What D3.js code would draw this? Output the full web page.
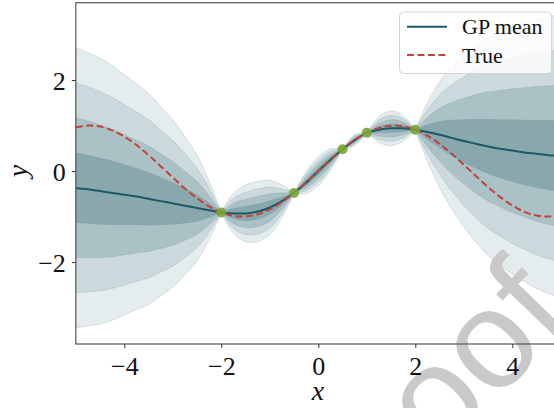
<!DOCTYPE html>
<html>
<head>
<meta charset="utf-8">
<script src="https://cdn.jsdelivr.net/npm/d3@7"></script>
<style>
  body { margin: 0; background: #fff; }
  svg { display: block; }
  text { font-family: "Liberation Serif", "DejaVu Serif", serif; }
</style>
</head>
<body>
<svg width="554" height="408"></svg>
<script>
// grid of x positions (step 0.25)
const xs = [-5, -4.75, -4.5, -4.25, -4, -3.75, -3.5, -3.25, -3, -2.75, -2.5, -2.25, -2,
  -1.75, -1.5, -1.25, -1, -0.75, -0.5, -0.25, 0, 0.25, 0.5, 0.75, 1, 1.25, 1.5, 1.75, 2,
  2.25, 2.5, 2.75, 3, 3.25, 3.5, 3.75, 4, 4.25, 4.5, 4.75, 5];

const gpMean = [-0.37, -0.40, -0.44, -0.48, -0.52, -0.56, -0.61, -0.66, -0.71, -0.76, -0.81, -0.86, -0.91,
  -0.93, -0.93, -0.89, -0.80, -0.66, -0.48, -0.25, 0.00, 0.25, 0.48, 0.68, 0.84, 0.91, 0.94, 0.94, 0.91,
  0.86, 0.80, 0.73, 0.66, 0.60, 0.54, 0.49, 0.45, 0.41, 0.38, 0.35, 0.33];

const gpStd = [0.77, 0.75, 0.73, 0.70, 0.66, 0.62, 0.58, 0.52, 0.46, 0.38, 0.29, 0.16, 0,
  0.11, 0.155, 0.165, 0.15, 0.09, 0, 0.06, 0.08, 0.06, 0, 0.03, 0, 0.07, 0.095, 0.07, 0,
  0.16, 0.29, 0.39, 0.47, 0.54, 0.60, 0.64, 0.68, 0.71, 0.74, 0.76, 0.78];

const trueY = [0.959, 0.999, 0.978, 0.895, 0.757, 0.572, 0.351, 0.108, -0.141, -0.382, -0.598, -0.778, -0.909,
  -0.984, -0.997, -0.949, -0.841, -0.682, -0.479, -0.247, 0, 0.247, 0.479, 0.682, 0.841, 0.949, 0.997, 0.984, 0.909,
  0.778, 0.598, 0.382, 0.141, -0.108, -0.351, -0.572, -0.757, -0.895, -0.978, -0.999, -0.959];

const obsX = [-2, -0.5, 0.5, 1, 2];
const obsY = [-0.91, -0.48, 0.48, 0.84, 0.91];

const xTicks = [-4, -2, 0, 2, 4];
const yTicks = [-2, 0, 2];
const bandLevels = [4, 3, 2, 1];
const legendLabels = ['GP mean', 'True'];

var svg = d3.select('svg');

var x = d3.scaleLinear().domain([-5, 5]).range([75.8, 560.8]);
var y = d3.scaleLinear().domain([-3.8, 3.7]).range([344, 2.7]);

var bandFill = { 4: '#e5ecee', 3: '#cbd8dc', 2: '#aac1c6', 1: '#88a8ae' };

var rows = xs.map((v, i) => ({ x: v, m: gpMean[i], s: gpStd[i], t: trueY[i] }));

// split the grid at the points where the band closes (sd == 0)
var segments = [];
var start = 0;
rows.forEach((r, i) => {
  if (i > 0 && (r.s === 0 || i === rows.length - 1)) {
    segments.push(rows.slice(start, i + 1));
    start = i;
  }
});

svg.append('defs').append('clipPath')
  .attr('id', 'plot-clip')
  .append('rect')
  .attr('x', x(-5)).attr('y', y(3.7))
  .attr('width', x(5) - x(-5)).attr('height', y(-3.8) - y(3.7));

var plot = svg.append('g').attr('clip-path', 'url(#plot-clip)');

bandLevels.forEach((k) => {
  var area = d3.area()
    .x(d => x(d.x))
    .y0(d => y(d.m - k * d.s))
    .y1(d => y(d.m + k * d.s))
    .curve(d3.curveCatmullRom);
  plot.append('path')
    .attr('d', segments.map(seg => area(seg)).join(''))
    .attr('fill', bandFill[k])
    .attr('stroke', '#6f959c')
    .attr('stroke-opacity', 0.3)
    .attr('stroke-width', 0.8);
});

var meanLine = d3.line().x(d => x(d.x)).y(d => y(d.m)).curve(d3.curveCatmullRom);
var trueLine = d3.line().x(d => x(d.x)).y(d => y(d.t)).curve(d3.curveCatmullRom);

plot.append('path')
  .attr('d', meanLine(rows))
  .attr('fill', 'none')
  .attr('stroke', '#1d5866')
  .attr('stroke-width', 2);

plot.append('path')
  .attr('d', trueLine(rows))
  .attr('fill', 'none')
  .attr('stroke', '#c0423b')
  .attr('stroke-width', 2)
  .attr('stroke-dasharray', '7,3.5');

plot.selectAll('circle.obs')
  .data(obsX)
  .enter()
  .append('circle')
  .attr('class', 'obs')
  .attr('cx', d => x(d))
  .attr('cy', (d, i) => y(obsY[i]))
  .attr('r', 5)
  .attr('fill', '#79a335')
  .attr('fill-opacity', 0.9);

// watermark
svg.append('text')
  .attr('transform', 'translate(342.6,559.8) rotate(-46)')
  .style('font-family', '"Liberation Sans", Arial, sans-serif')
  .style('font-size', '140px')
  .attr('fill', '#c9c9c9')
  .text('Proof');

// frame
svg.append('rect')
  .attr('x', x(-5)).attr('y', y(3.7))
  .attr('width', x(5) - x(-5)).attr('height', y(-3.8) - y(3.7))
  .attr('fill', 'none')
  .attr('stroke', '#555')
  .attr('stroke-width', 1.2);

var fmt = d => d < 0 ? '\u2212' + Math.abs(d) : String(d);

var xAxis = svg.append('g')
  .attr('transform', 'translate(0,' + y(-3.8) + ')')
  .call(d3.axisBottom(x).tickValues(xTicks).tickSize(4).tickFormat(fmt));
xAxis.select('.domain').remove();
xAxis.selectAll('line').attr('stroke', '#333');
xAxis.selectAll('text')
  .attr('y', 31).attr('dy', null)
  .attr('fill', '#111')
  .style('font-family', '"Liberation Serif", serif')
  .style('font-size', '26px');

var yAxis = svg.append('g')
  .attr('transform', 'translate(' + x(-5) + ',0)')
  .call(d3.axisLeft(y).tickValues(yTicks).tickSize(4).tickFormat(fmt));
yAxis.select('.domain').remove();
yAxis.selectAll('line').attr('stroke', '#333');
yAxis.selectAll('text')
  .attr('x', -10).attr('dy', '0.36em')
  .attr('fill', '#111')
  .style('font-family', '"Liberation Serif", serif')
  .style('font-size', '26px');

svg.append('text')
  .attr('x', 318).attr('y', 400)
  .attr('text-anchor', 'middle')
  .style('font-style', 'italic')
  .style('font-size', '28px')
  .attr('fill', '#111')
  .text('x');

svg.append('text')
  .attr('transform', 'translate(27,171) rotate(-90)')
  .attr('text-anchor', 'middle')
  .style('font-style', 'italic')
  .style('font-size', '28px')
  .attr('fill', '#111')
  .text('y');

// legend
var legend = svg.append('g');
legend.append('rect')
  .attr('x', 399.5).attr('y', 12)
  .attr('width', 152).attr('height', 61.5)
  .attr('rx', 4)
  .attr('fill', '#fff').attr('fill-opacity', 0.8)
  .attr('stroke', '#d5d5d5');

legend.append('line')
  .attr('x1', 407).attr('x2', 447).attr('y1', 26.7).attr('y2', 26.7)
  .attr('stroke', '#1d5866').attr('stroke-width', 2);
legend.append('line')
  .attr('x1', 407).attr('x2', 447).attr('y1', 55).attr('y2', 55)
  .attr('stroke', '#c0423b').attr('stroke-width', 2)
  .attr('stroke-dasharray', '7,3.5');

legend.selectAll('text.lab')
  .data(legendLabels)
  .enter()
  .append('text')
  .attr('class', 'lab')
  .attr('x', 462)
  .attr('y', (d, i) => 34 + i * 29)
  .style('font-size', '22px')
  .attr('fill', '#111')
  .text(d => d);
</script>
</body>
</html>
